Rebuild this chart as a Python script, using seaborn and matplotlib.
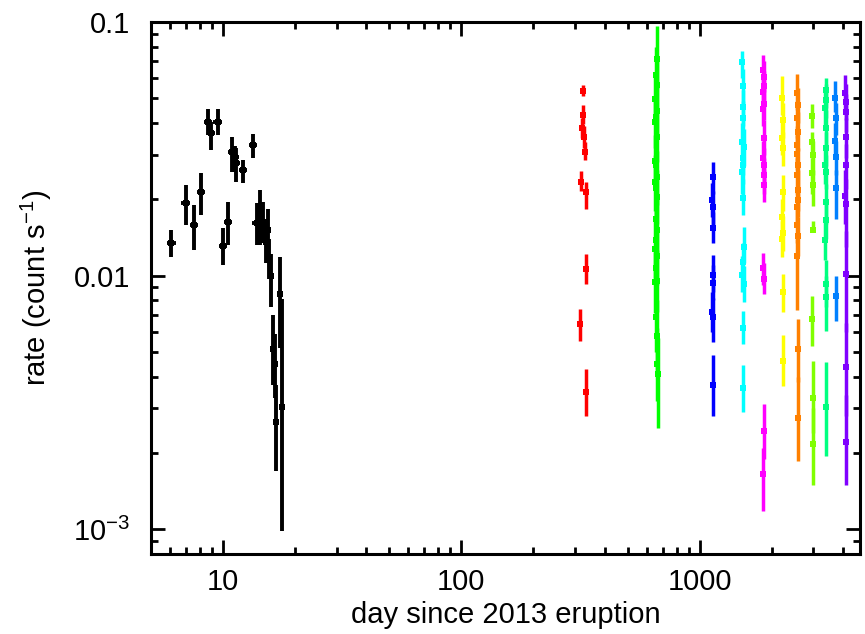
import numpy as np
import pandas as pd
import seaborn as sns
import matplotlib
matplotlib.use("Agg")
import matplotlib.pyplot as plt
from matplotlib.ticker import FixedLocator, FixedFormatter, LogLocator, NullFormatter

# data (day, rate, lower bound, upper bound)
black_x = [6.09, 7.01, 7.55, 8.11, 8.68, 8.93, 9.53, 10.0, 10.5, 10.94, 11.23, 11.37, 12.17,
           13.37, 13.86, 14.31, 14.73, 15.16, 15.45, 15.6, 15.91, 17.36, 16.23, 16.54, 16.7, 17.75]
black_xerr = [0.25, 0.3, 0.3, 0.35, 0.35, 0.35, 0.4, 0.4, 0.4, 0.45, 0.45, 0.45, 0.5,
              0.5, 0.55, 0.55, 0.3, 0.3, 0.3, 0.3, 0.3, 0.3, 0.3, 0.3, 0.3, 0.3]
black_y = [0.0135, 0.0194, 0.0158, 0.0213, 0.0405, 0.0366, 0.0405, 0.0131, 0.0163, 0.0306, 0.0294,
           0.0277, 0.0261, 0.0327, 0.0161, 0.0189, 0.0163, 0.0136, 0.0151, 0.0117, 0.0100, 0.00849,
           0.00515, 0.00449, 0.00264, 0.00303]
black_lo = [0.0119, 0.0159, 0.0126, 0.0174, 0.0359, 0.0313, 0.0357, 0.0110, 0.0132, 0.0257, 0.0257,
            0.0235, 0.0231, 0.0292, 0.0132, 0.0132, 0.0134, 0.0112, 0.0117, 0.0097, 0.0075, 0.0052,
            0.0037, 0.0033, 0.0017, 0.00099]
black_hi = [0.0151, 0.0228, 0.0190, 0.0253, 0.0454, 0.0405, 0.0454, 0.0154, 0.0196, 0.0353, 0.0324,
            0.0318, 0.0286, 0.0361, 0.0193, 0.0218, 0.0196, 0.0168, 0.0184, 0.0140, 0.0122, 0.0119,
            0.0070, 0.0059, 0.0037, 0.0081]

red_x = [323, 325, 320, 328, 330, 318, 333, 335, 316, 334]
red_y = [0.0535, 0.0430, 0.0381, 0.0353, 0.0308, 0.0235, 0.0214, 0.01066, 0.00646, 0.00347]
red_lo = [0.0510, 0.0395, 0.0350, 0.0320, 0.0286, 0.0215, 0.0184, 0.0093, 0.00555, 0.00281]
red_hi = [0.0565, 0.0470, 0.0420, 0.0390, 0.0335, 0.0258, 0.0235, 0.0122, 0.0074, 0.00429]

green_x = [660, 655, 662, 650, 665, 655, 652, 660, 648, 658, 662, 650, 656,
           660, 654, 662, 658, 650, 664, 656, 660, 652, 658, 662, 664, 666]
green_y = [0.0716, 0.0620, 0.0567, 0.0496, 0.0446, 0.0424, 0.0404, 0.0353, 0.0282, 0.0274, 0.0244,
           0.0235, 0.0221, 0.0204, 0.0168, 0.0152, 0.0138, 0.0128, 0.0120, 0.0107, 0.00957,
           0.00945, 0.00687, 0.00581, 0.00449, 0.00410]
green_lo = [0.055, 0.048, 0.045, 0.040, 0.036, 0.034, 0.032, 0.028, 0.022, 0.021, 0.019, 0.018,
            0.017, 0.016, 0.013, 0.0118, 0.0106, 0.0098, 0.0092, 0.0081, 0.0072, 0.0071, 0.0050,
            0.0042, 0.0032, 0.00252]
green_hi = [0.096, 0.080, 0.072, 0.062, 0.056, 0.053, 0.051, 0.045, 0.036, 0.035, 0.031, 0.030,
            0.028, 0.026, 0.022, 0.020, 0.018, 0.0165, 0.0155, 0.0140, 0.0126, 0.0124, 0.0092,
            0.0080, 0.0062, 0.0057]

blue_x = [1135, 1130, 1140, 1135, 1132, 1138, 1130, 1136, 1140]
blue_y = [0.0245, 0.0199, 0.0186, 0.0154, 0.0101, 0.00937, 0.00718, 0.00687, 0.00372]
blue_lo = [0.021, 0.0170, 0.0158, 0.0134, 0.0086, 0.0080, 0.0060, 0.00547, 0.0028]
blue_hi = [0.0281, 0.0232, 0.0215, 0.0178, 0.0121, 0.0110, 0.0086, 0.0082, 0.00487]

cyan_x = [1510, 1520, 1515, 1525, 1505, 1530, 1515, 1520, 1510, 1525, 1530, 1515, 1510, 1535, 1520, 1515]
cyan_y = [0.0698, 0.0557, 0.0461, 0.0417, 0.0338, 0.0323, 0.0290, 0.0273, 0.0257, 0.0203, 0.0130,
          0.0113, 0.0101, 0.00930, 0.00621, 0.00360]
cyan_lo = [0.060, 0.047, 0.039, 0.035, 0.029, 0.027, 0.025, 0.023, 0.021, 0.0173, 0.0112, 0.0096,
           0.0086, 0.00787, 0.00539, 0.00291]
cyan_hi = [0.0767, 0.065, 0.054, 0.049, 0.040, 0.038, 0.034, 0.032, 0.030, 0.024, 0.0156, 0.0134,
           0.0120, 0.0109, 0.00723, 0.00445]

magenta_x = [1850, 1860, 1855, 1845, 1862, 1850, 1858, 1848, 1860, 1852, 1856, 1850, 1862, 1855, 1850]
magenta_y = [0.0644, 0.0608, 0.0561, 0.0529, 0.0476, 0.0453, 0.0348, 0.0292, 0.0274, 0.0250, 0.0227,
             0.0107, 0.00973, 0.00244, 0.00165]
magenta_lo = [0.057, 0.053, 0.049, 0.046, 0.041, 0.039, 0.030, 0.025, 0.023, 0.021, 0.0195, 0.0092,
              0.00848, 0.0019, 0.00118]
magenta_hi = [0.0744, 0.070, 0.064, 0.061, 0.055, 0.052, 0.041, 0.034, 0.032, 0.029, 0.026, 0.0123,
              0.0112, 0.00312, 0.0021]

yellow_x = [2220, 2230, 2215, 2235, 2225, 2220, 2230, 2215, 2225, 2230]
yellow_y = [0.0501, 0.0410, 0.0348, 0.0318, 0.0214, 0.0171, 0.0147, 0.0140, 0.00862, 0.00463]
yellow_lo = [0.043, 0.035, 0.030, 0.027, 0.018, 0.0145, 0.0125, 0.0118, 0.00719, 0.00369]
yellow_hi = [0.0610, 0.048, 0.041, 0.037, 0.025, 0.020, 0.0172, 0.0165, 0.0102, 0.00584]

orange_x = [2570, 2575, 2565, 2580, 2570, 2560, 2575, 2568, 2572, 2580, 2565, 2570, 2575, 2560, 2580, 2575]
orange_y = [0.0525, 0.0470, 0.0417, 0.0370, 0.0328, 0.0303, 0.0274, 0.0249, 0.0217, 0.0198, 0.0187,
            0.0158, 0.0143, 0.0120, 0.00515, 0.00276]
orange_lo = [0.045, 0.040, 0.035, 0.031, 0.028, 0.026, 0.023, 0.021, 0.018, 0.017, 0.016, 0.0135,
             0.0120, 0.00730, 0.0038, 0.00186]
orange_hi = [0.0623, 0.055, 0.049, 0.044, 0.039, 0.036, 0.032, 0.029, 0.026, 0.023, 0.022, 0.0185,
             0.0170, 0.0140, 0.00676, 0.0040]

chart_x = [2960, 2970, 2985, 2965, 2975, 2980, 2970, 2975, 2985]
chart_y = [0.0427, 0.0337, 0.0298, 0.0253, 0.0228, 0.0152, 0.00676, 0.00329, 0.00217]
chart_lo = [0.0381, 0.029, 0.025, 0.021, 0.0189, 0.0149, 0.00530, 0.0024, 0.00149]
chart_hi = [0.0476, 0.0370, 0.034, 0.029, 0.026, 0.0164, 0.00831, 0.00462, 0.0030]

spring_x = [3370, 3380, 3360, 3385, 3375, 3365, 3380, 3370, 3375, 3365, 3385, 3370, 3380]
spring_y = [0.0540, 0.0493, 0.0457, 0.0381, 0.0318, 0.0273, 0.0257, 0.0195, 0.0166, 0.0138,
            0.00930, 0.00824, 0.00303]
spring_lo = [0.046, 0.042, 0.039, 0.032, 0.027, 0.023, 0.022, 0.016, 0.014, 0.0115, 0.0075,
             0.00607, 0.00195]
spring_hi = [0.0604, 0.057, 0.053, 0.045, 0.037, 0.032, 0.030, 0.023, 0.020, 0.0165, 0.0115,
             0.0100, 0.00458]

azure_x = [3700, 3720, 3710, 3725, 3715, 3730]
azure_y = [0.0501, 0.0420, 0.0340, 0.0295, 0.0221, 0.00828]
azure_lo = [0.044, 0.036, 0.029, 0.025, 0.0168, 0.00660]
azure_hi = [0.0585, 0.048, 0.040, 0.034, 0.026, 0.00997]

violet_x = [4080, 4100, 4090, 4110, 4095, 4085, 4100, 4090, 4095, 4105]
violet_y = [0.0525, 0.0486, 0.0441, 0.0353, 0.0273, 0.0207, 0.0192, 0.0102, 0.00436, 0.00222]
violet_lo = [0.045, 0.041, 0.037, 0.029, 0.022, 0.016, 0.0130, 0.0060, 0.0028, 0.00149]
violet_hi = [0.0616, 0.057, 0.052, 0.042, 0.033, 0.026, 0.024, 0.0150, 0.0065, 0.0034]

# colour of each observing season
groups = [
    ("#ff0000", red_x, red_y, red_lo, red_hi),
    ("#00ff00", green_x, green_y, green_lo, green_hi),
    ("#0000ff", blue_x, blue_y, blue_lo, blue_hi),
    ("#00ffff", cyan_x, cyan_y, cyan_lo, cyan_hi),
    ("#ff00ff", magenta_x, magenta_y, magenta_lo, magenta_hi),
    ("#ffff00", yellow_x, yellow_y, yellow_lo, yellow_hi),
    ("#ff8000", orange_x, orange_y, orange_lo, orange_hi),
    ("#80ff00", chart_x, chart_y, chart_lo, chart_hi),
    ("#00ff80", spring_x, spring_y, spring_lo, spring_hi),
    ("#0080ff", azure_x, azure_y, azure_lo, azure_hi),
    ("#8000ff", violet_x, violet_y, violet_lo, violet_hi),
]

sns.set_theme(style="ticks")
plt.rcParams["font.family"] = ["Liberation Sans", "DejaVu Sans"]
plt.rcParams["mathtext.fontset"] = "custom"
plt.rcParams["mathtext.rm"] = "Liberation Sans"
plt.rcParams["mathtext.it"] = "Liberation Sans:italic"
plt.rcParams["text.color"] = "black"
plt.rcParams["axes.labelcolor"] = "black"
plt.rcParams["xtick.color"] = "black"
plt.rcParams["ytick.color"] = "black"

fig = plt.figure(figsize=(8.65, 6.34), dpi=100)
ax = fig.add_axes([0.1746, 0.1262, 0.8196, 0.8391])

# black: first eruption data, with x error bars
by = np.array(black_y)
ax.errorbar(black_x, by, xerr=black_xerr,
            yerr=[by - np.array(black_lo), np.array(black_hi) - by],
            fmt="none", ecolor="black", elinewidth=2.8, capsize=0)
df = pd.DataFrame({"day": black_x, "rate": black_y})
sns.scatterplot(data=df, x="day", y="rate", ax=ax, color="black", marker="s",
                s=16, linewidth=0, zorder=3)

for col, gx, gy, glo, ghi in groups:
    gy = np.array(gy)
    ax.errorbar(gx, gy, yerr=[gy - np.array(glo), np.array(ghi) - gy],
                fmt="none", ecolor=col, elinewidth=2.5, capsize=0)
    gdf = pd.DataFrame({"day": gx, "rate": gy})
    sns.scatterplot(data=gdf, x="day", y="rate", ax=ax, color=col, marker="s",
                    s=20, linewidth=0, zorder=3)

ax.set_xscale("log")
ax.set_yscale("log")
ax.set_xlim(5, 4700)
ax.set_ylim(8e-4, 0.1)

ax.xaxis.set_major_locator(FixedLocator([10, 100, 1000]))
ax.xaxis.set_major_formatter(FixedFormatter(["10", "100", "1000"]))
ax.xaxis.set_minor_locator(LogLocator(base=10, subs=np.arange(2, 10), numticks=20))
ax.xaxis.set_minor_formatter(NullFormatter())
ax.yaxis.set_major_locator(FixedLocator([1e-3, 1e-2, 1e-1]))
ax.yaxis.set_major_formatter(FixedFormatter(["10$^{-3}$", "0.01", "0.1"]))
ax.yaxis.set_minor_locator(LogLocator(base=10, subs=np.arange(2, 10), numticks=20))
ax.yaxis.set_minor_formatter(NullFormatter())

ax.tick_params(which="both", direction="in", top=True, right=True, width=2.0,
               labelsize=21, colors="black")
ax.tick_params(axis="y", which="major", length=10, pad=15)
ax.tick_params(axis="x", which="major", length=10, pad=10)
ax.tick_params(which="minor", length=5)
for sp in ax.spines.values():
    sp.set_linewidth(2.2)
    sp.set_color("black")

ax.set_xlabel("day since 2013 eruption", fontsize=21, labelpad=4)
ax.set_ylabel("rate (count s$^{-1}$)", fontsize=21, labelpad=14)

fig.savefig("out.png", dpi=100)
